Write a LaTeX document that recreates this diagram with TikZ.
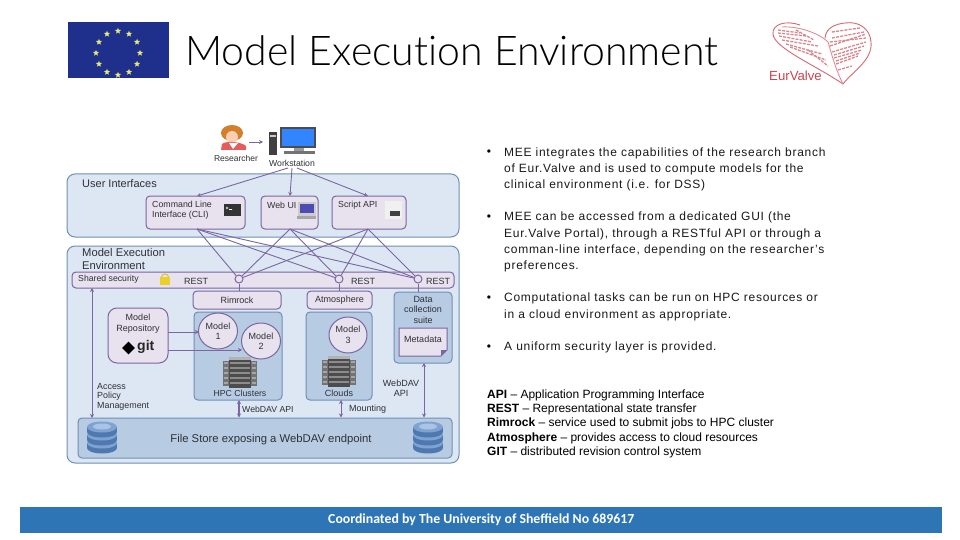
\documentclass[tikz,border=0pt]{standalone}
\usepackage{fontspec}
\setmainfont{Liberation Sans}
\newfontfamily\carlito{Carlito}
\newfontfamily\titlefont[Ligatures=NoCommon]{Lato Light}
\newfontfamily\bodyfont[LetterSpace=6]{Liberation Sans}
\usetikzlibrary{shapes.geometric,arrows.meta}
\definecolor{violetline}{HTML}{7A66A0}
\definecolor{panelborder}{HTML}{6F8FB5}
\definecolor{panelfill}{HTML}{DDE7F3}
\definecolor{lav}{HTML}{E8E1EE}
\definecolor{innerblue}{HTML}{B7CCE3}
\definecolor{footerblue}{HTML}{2E75B6}
\definecolor{eublue}{HTML}{1F2F8C}
\definecolor{eustar}{HTML}{E6E87A}
\definecolor{heartred}{HTML}{C8454F}
\definecolor{txt}{HTML}{303036}
\definecolor{diska}{HTML}{4F78B0}
\definecolor{diskb}{HTML}{7FA3D0}
\definecolor{diskc}{HTML}{A9C4E4}
\tikzset{
  panel/.style={draw=panelborder,line width=1pt,fill=panelfill,rounded corners=8pt},
  purplebox/.style={draw=violetline,line width=1pt,fill=lav,rounded corners=4pt},
  bluebox/.style={draw=panelborder,line width=1pt,fill=innerblue,rounded corners=4pt},
  dtext/.style={font=\fontsize{9}{10.5}\selectfont,text=txt,inner sep=0pt,align=center},
  dleft/.style={dtext,align=left,anchor=west},
  modelnode/.style={ellipse,draw=violetline,line width=1pt,fill=lav,minimum width=39pt,minimum height=36pt,inner sep=0pt,dtext},
  conn/.style={draw=violetline,line width=0.9pt},
  tiparrow/.style={conn,-{Stealth[length=4pt,width=4pt]}},
  bothways/.style={conn,{Stealth[length=4pt,width=4pt]}-{Stealth[length=4pt,width=4pt]}},
  portc/.style={circle,draw=violetline,line width=1pt,fill=lav,minimum size=8pt,inner sep=0pt},
  bullettext/.style={font=\bodyfont\fontsize{12}{16.3}\selectfont,text=black!90,align=left,anchor=north west,inner sep=0pt},
  legend/.style={font=\fontsize{12}{14.3}\selectfont,text=black,align=left,anchor=north west,inner sep=0pt},
  euS/.style={star,star points=5,star point ratio=2.3,fill=eustar,minimum size=6.5pt,inner sep=0pt},
  pics/server/.style={code={
    \fill[black!55] (-17,-12) rectangle (17,13);
    \fill[black!70] (-11,-16) rectangle (11,15);
    \fill[black!30] (-11,-16) rectangle (11,-13);
    \foreach \yy in {-11,-6,-1,4,9}{
      \fill[black!45] (-10,\yy) rectangle (10,\yy+1.5);
      \fill[black!35] (-16,\yy) rectangle (-12,\yy+1.5);
      \fill[black!35] (12,\yy) rectangle (16,\yy+1.5);
    }
  }},
  pics/disk/.style={code={
    \foreach \yy in {9,1,-7}{
      \fill[diska] (-15,\yy-5) rectangle (15,\yy);
      \fill[diska] (0,\yy) ellipse[x radius=15,y radius=5.5];
      \fill[diskb] (0,\yy-5) ellipse[x radius=15,y radius=5.5];
    }
    \fill[diskc] (0,-12.5) ellipse[x radius=9,y radius=3];
  }},
}
\begin{document}
\begin{tikzpicture}[x=1pt,y=-1pt]
\useasboundingbox (0,0) rectangle (960,540);
\fill[white] (0,0) rectangle (960,540);

% --- header ---
\node[inner sep=0pt,anchor=west,font=\titlefont\fontsize{41}{44}\selectfont,text=black] (title) at (185,51) {Model Execution Environment};
\fill[eublue] (68,22) rectangle (169,78);
\foreach \a in {0,30,...,330}{
  \node[euS] at ({118+22*cos(\a)},{53+22*sin(\a)}) {};
}
% heart logo
\begin{scope}[draw=heartred,line width=0.9pt]
\draw[heartred!80] (800,25) .. controls (786,20) and (772,24) .. (773,34) .. controls (774,48) and (815,65) .. (843,84)
      .. controls (852,72) and (873,60) .. (871,42) .. controls (870,28) and (858,21) .. (845,23)
      .. controls (835,24) and (826,28) .. (825,38);
\draw[heartred!60] (782,27) .. controls (800,26) and (820,34) .. (828,42) .. controls (832,55) and (835,68) .. (843,84);
\foreach \xa/\ya/\xb/\yb in {778/30/800/33, 778/33/806/36, 779/36/812/42, 782/40/818/46, 786/44/822/54, 790/47/826/60, 796/30/814/40, 808/50/828/66, 830/46/866/34, 832/52/866/42, 834/58/862/50, 836/64/858/56, 838/70/852/66, 832/32/860/28, 832/38/864/32, 830/42/866/38, 834/55/864/46, 836/61/860/53}
  {\draw[line width=1.3pt,heartred!65,dash pattern=on 3pt off 1.2pt] (\xa,\ya) -- (\xb,\yb);}
\end{scope}
\node[inner sep=0pt,anchor=west,font=\fontsize{13.2}{15}\selectfont,text=heartred] (eurvalve) at (769,76) {EurValve};

% --- panels ---
\draw[panel] (67,174) rectangle (459,237);
\draw[panel] (67,246) rectangle (459,463);
\node[dleft,font=\fontsize{11}{12}\selectfont] (uilab) at (82,184) {User Interfaces};
\node[dleft,font=\fontsize{11.2}{12.5}\selectfont] (meelab) at (82,259) {Model Execution\\Environment};

\node[purplebox,minimum width=99pt,minimum height=33pt,inner sep=0pt] (cli) at (195.5,212.5) {};
\node[purplebox,minimum width=57pt,minimum height=33pt,inner sep=0pt] (web) at (289.5,212.5) {};
\node[purplebox,minimum width=74pt,minimum height=33pt,inner sep=0pt] (script) at (369,212.5) {};
\node[dleft,font=\fontsize{8.8}{10}\selectfont] (clit) at (152,210) {Command Line\\Interface (CLI)};
\node[dleft,font=\fontsize{8.8}{10}\selectfont] (webt) at (267,205.5) {Web UI};
\node[dleft,font=\fontsize{8.8}{10}\selectfont] (scrt) at (338,205.5) {Script API};
% small icons
\fill[black!80] (224,204) rectangle (241,216);
\draw[white,line width=0.6pt] (226,207) -- (228,208) -- (226,209) (229,209.5) -- (232,209.5);
\fill[black!20] (298,202) rectangle (316,216);
\fill[blue!40!gray] (300,203.5) rectangle (314,213);
\fill[black!35] (297,216) rectangle (316,219);
\fill[black!6] (385,201) rectangle (402,219);
\fill[black!75] (390,211) rectangle (400,216);

% shared security bar
\node[purplebox,minimum width=382pt,minimum height=16pt,inner sep=0pt] (bar) at (263,280) {};
\node[dleft,font=\fontsize{8.7}{10}\selectfont] (sst) at (78,279.5) {Shared security};
\fill[yellow!65!brown] (160,277) rectangle (170,285);
\draw[yellow!50!brown,line width=1pt] (161.5,277) .. controls (162,273) and (168,273) .. (168.5,277);
\node[dleft] (rest1) at (184,281) {REST};
\node[dleft] (rest2) at (351,281) {REST};
\node[dleft] (rest3) at (426,281) {REST};

% lower boxes
\node[purplebox,minimum width=88pt,minimum height=18pt,inner sep=0pt,dtext] (rim) at (237,300) {Rimrock};
\node[purplebox,minimum width=65pt,minimum height=18pt,inner sep=0pt,dtext] (atm) at (339.5,300) {Atmosphere};
\draw[bluebox] (194,312) rectangle (282,400);
\draw[bluebox] (306,312) rectangle (372,400);
\node[bluebox,minimum width=58pt,minimum height=71pt,inner sep=0pt] (dcs) at (423,327.5) {};
\node[dtext] (dcst) at (423,309.5) {Data\\collection\\suite};
\draw[draw=violetline,line width=1pt,fill=lav] (399,328) -- (447,328) -- (447,350) -- (441,356) -- (399,356) -- cycle;
\fill[violetline] (447,350) -- (441,356) -- (441,350) -- cycle;
\node[dtext] (meta) at (423,339) {Metadata};

\node[draw=violetline,line width=1pt,fill=lav,rounded corners=9pt,minimum width=60pt,minimum height=55pt,inner sep=0pt] (repo) at (138,335.5) {};
\node[dtext] (repot) at (138,323.5) {Model\\Repository};
\node[rotate=45,fill=black,minimum size=9pt,inner sep=0pt] (gitd) at (128.5,348) {};
\node[inner sep=0pt,anchor=west,font=\bfseries\fontsize{14}{14}\selectfont,text=black!85] (gitt) at (137,347) {git};

\coordinate (r1) at (168,332);
\coordinate (r2) at (168,350);
\pic at (240,373) {server};
\pic at (339,372) {server};
\node[modelnode] (m1) at (218,331) {Model\\1};
\node[modelnode] (m2) at (261,341) {Model\\2};
\node[modelnode,minimum width=38pt] (m3) at (348,335) {Model\\3};
\coordinate (m1in) at (199,332);
\coordinate (m2in) at (242,350);
\draw[tiparrow] (r1) -- (m1in);
\draw[tiparrow] (r2) -- (m2in);
\node[dtext,font=\fontsize{8.7}{10}\selectfont] (hpc) at (240,393) {HPC Clusters};
\node[dtext] (clouds) at (339,393) {Clouds};

% file store
\node[bluebox,minimum width=374pt,minimum height=40pt,inner sep=0pt] (fs) at (265,438) {};
\node[dtext,font=\fontsize{11.3}{12}\selectfont] (fst) at (271,439.5) {File Store exposing a WebDAV endpoint};
\pic at (102,439) {disk};
\pic at (428,439) {disk};

% workstation + person
\fill[black!75] (269,132) rectangle (277,155);
\fill[black!20] (270,135) rectangle (276,137);
\fill[black!70] (280,127) rectangle (316,148);
\fill[blue!60!cyan!80!white] (282,129) rectangle (314,146);
\fill[black!40] (294,148) rectangle (304,151);
\fill[black!55] (284,151) rectangle (315,154);
\fill[brown!70!orange] (232,133) ellipse[x radius=11,y radius=8];
\fill[red!25!orange!30!white] (232,137) ellipse[x radius=6,y radius=6];
\fill[red!60!white!90!black] (221,150) -- (222,144) .. controls (225,141) and (240,141) .. (246,146) -- (246,150) -- cycle;
\fill[white] (233,149) -- (229,143) -- (238,143) -- cycle;
\node[dtext,font=\fontsize{8.5}{10}\selectfont] (res) at (236,158) {Researcher};
\node[dtext,font=\fontsize{8.7}{10}\selectfont] (wks) at (292,163) {Workstation};
\coordinate (pa) at (249,142);
\coordinate (pb) at (263,142);
\draw[tiparrow] (pa) -- (pb);

% connectors
\coordinate (w1) at (288,168);
\coordinate (w2) at (292,168);
\coordinate (w3) at (297,168);
\coordinate (c1) at (197,196);
\coordinate (c2) at (290,196);
\coordinate (c3) at (368,196);
\draw[tiparrow] (w1) -- (c1);
\draw[tiparrow] (w2) -- (c2);
\draw[tiparrow] (w3) -- (c3);

\node[portc] (p1) at (239,279) {};
\node[portc] (p2) at (339,279) {};
\node[portc] (p3) at (418,279) {};
\coordinate (d1) at (197,229);
\coordinate (d2) at (290,229);
\coordinate (d3) at (368,229);
\foreach \s in {d1,d2,d3}{
  \foreach \t in {p1,p2,p3}{
    \draw[conn] (\s) -- (\t);
  }
}
\draw[conn] (p1) -- (p1 |- rim.north);
\draw[conn] (p2) -- (p2 |- atm.north);
\draw[conn] (p3) -- (p3 |- dcs.north);

% vertical links
\coordinate (acc1) at (92,288);
\coordinate (acc2) at (92,418);
\draw[bothways] (acc1) -- (acc2);
\coordinate (hb) at (239,400);
\draw[bothways,line width=1.4pt] (hb) -- (hb |- fs.north);
\coordinate (cb) at (341,400);
\draw[bothways] (cb) -- (cb |- fs.north);
\coordinate (db) at (424,363);
\draw[bothways] (db) -- (db |- fs.north);

\node[dleft,font=\fontsize{8.9}{9.6}\selectfont] (acc) at (97,396.5) {Access\\Policy\\Management};
\node[dleft,font=\fontsize{8.7}{10}\selectfont] (wd1) at (242,409) {WebDAV API};
\node[dleft,font=\fontsize{9}{10}\selectfont] (mnt) at (349,409) {Mounting};
\node[dtext,font=\fontsize{9}{10}\selectfont] (wd2) at (401,388) {WebDAV\\API};

% right-hand text
\node[inner sep=0pt,font=\bodyfont\fontsize{12}{14}\selectfont] (b1) at (489,153) {•};
\node[inner sep=0pt,font=\bodyfont\fontsize{12}{14}\selectfont] (b2) at (489,217.5) {•};
\node[inner sep=0pt,font=\bodyfont\fontsize{12}{14}\selectfont] (b3) at (489,298.5) {•};
\node[inner sep=0pt,font=\bodyfont\fontsize{12}{14}\selectfont] (b4) at (489,347.5) {•};
\node[bullettext] (t1) at (504,147.3) {MEE integrates the capabilities of the research branch\\of Eur.Valve and is used to compute models for the\\clinical environment (i.e. for DSS)};
\node[bullettext] (t2) at (504,212) {MEE can be accessed from a dedicated GUI (the\\Eur.Valve Portal), through a RESTful API or through a\\comman-line interface, depending on the researcher’s\\preferences.};
\node[bullettext] (t3) at (504,293) {Computational tasks can be run on HPC resources or\\in a cloud environment as appropriate.};
\node[bullettext] (t4) at (504,342) {A uniform security layer is provided.};
\node[legend] (leg) at (487,389.3) {\textbf{API} – Application Programming Interface\\\textbf{REST} – Representational state transfer\\\textbf{Rimrock} – service used to submit jobs to HPC cluster\\\textbf{Atmosphere} – provides access to cloud resources\\\textbf{GIT} – distributed revision control system};

% footer
\node[fill=footerblue,minimum width=922pt,minimum height=26pt,inner sep=0pt] (foot) at (481,520) {};
\node[inner sep=0pt,anchor=west,text=white,font=\carlito\bfseries\fontsize{13.8}{15}\selectfont] (foott) at (328,520) {Coordinated by The University of Sheffield No 689617};
\end{tikzpicture}
\end{document}
